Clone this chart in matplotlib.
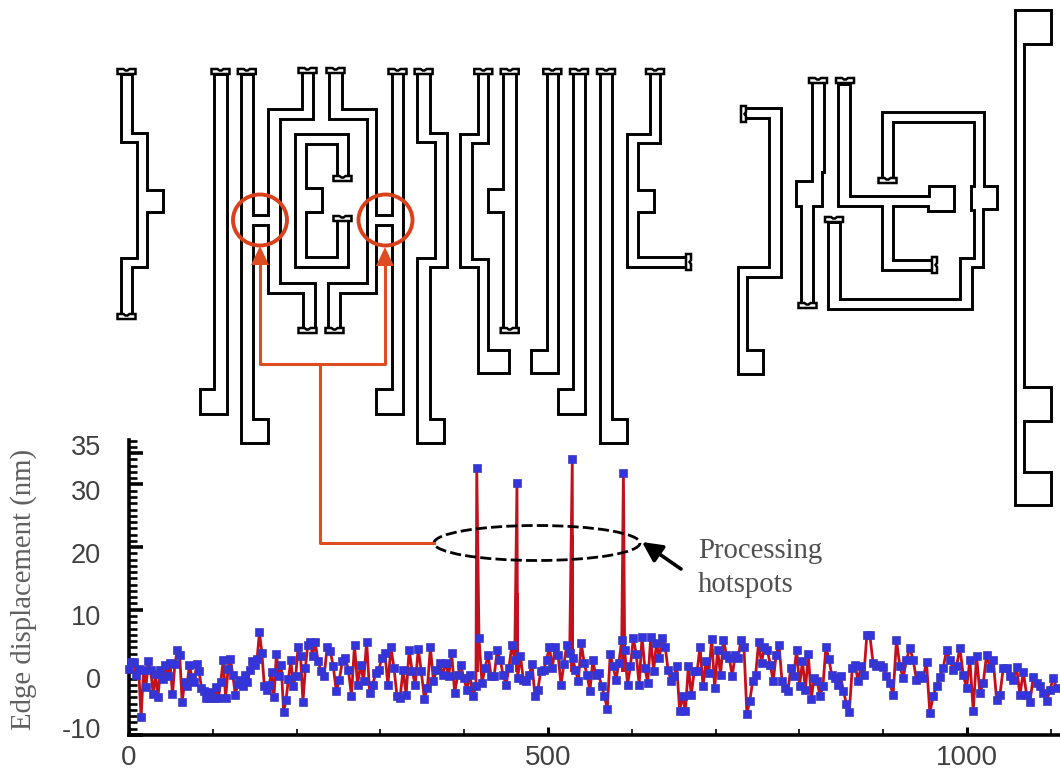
import numpy as np
import matplotlib
matplotlib.use('Agg')
import matplotlib.pyplot as plt
import matplotlib.transforms as mtransforms
from matplotlib.patches import Ellipse, Polygon, FancyArrowPatch
from matplotlib.ticker import MultipleLocator

# edge displacement, one array per stretch of the x axis
seg1_y = [0.5, 1.6, 1.7, -0.4, 0.5, -7.2, 0.3, -2.4, 1.8, 0.3, -3.5, -0.3, -3.9, 0.4, -1.1, 1.2, -0.6, 1.5, -3.5, 1.3,
          3.6, 2.7, -4.8, -1.5, -2.2, 1.2, -0.7, -1.6, 1.3, 0.2, -2.5, -3.0, -4.1, -4.1, -3.2, -4.1, -2.3, -4.1, -1.5, 2.0,
          -4.1, 0.5, 2.1, -0.5, -3.6, -1.9, -1.2, -2.2, -0.5, -1.5, 0.3, 1.8, 1.2, 2.1, 6.4, 3.1, -2.1, -2.8, -2.0, 0.0,
          -4.0, 2.9, -0.6, 1.2, -6.3, -4.4, -1.0, 1.9, -2.2, -0.6, 4.1, 2.6, -4.7, 0.7, 4.4, 4.9, 2.6]
seg2_y = [4.9, 1.8, 0.2, -0.6, 4.1, 3.4, 1.0, -3.0, -1.2, 1.8, 2.3, 0.4, -3.8, 4.4, -2.0, 1.2, -1.4, 4.9, -3.3, -2.0,
          -0.1, 0.4, 2.3, 3.1, -2.0, 4.0, 0.7, -3.8, -4.1, 0.4, -3.6, 3.6, 0.2, -2.0, 3.8, 0.2, -4.2, -2.5, 4.0, -1.4,
          0.4, 1.5, -0.4, 1.5, -0.6, 3.1, -3.3, -0.4, 1.2, -0.9, -2.8, -0.4, -3.8, -2.2, 5.5, -1.7, 0.7, 2.8, -0.6, -0.6, 3.5]
seg3_y = [2.0, -0.4, -2.0, 0.7, 4.3, 2.0, -0.9, 2.6, -1.2, -1.4, -0.4, 1.3, -3.8, -2.8, 0.2, 0.4, 2.0, 4.1, 0.7, 4.1,
          2.8, -2.0, 1.3, 4.4, 3.1, 2.3, 0.4, -1.4, 4.7, 1.5, -0.4, -3.0, 1.9, -0.4, -0.1, -2.2, -3.7, -5.9, 2.9, 1.0,
          -1.2, 1.5, 5.2, 3.6, -2.0, 1.0, 5.5, 2.9, -2.0, 5.6, 0.7, -1.7, 5.6, 0.2, 4.7, 2.3, 5.5, 4.1, 0.4, -1.4, -0.6, 1.0, -6.1, -3.8]
seg4_y = [-6.2, 1.0, -3.6, 0.2, 0.2, 4.1, -2.2, 1.8, -0.1, 5.4, -2.5, 3.6, -0.4, 5.2, 2.8, 2.3, -0.6, 2.8, 2.3, 5.2,
          4.1, -6.6, -4.5, -1.4, -0.4, 4.8, 1.5, 4.1, 3.6, 1.2, -1.4, 2.8, 4.4, -1.4, -2.5, -3.0, 0.7, -0.6, 3.6, -2.2,
          1.8, -2.8, 2.9, -4.2, -0.9, -1.4, -3.8, -2.2, 4.0, 2.2, -0.4, -0.9, -2.0, -0.6, -3.0, -5.0, -6.4, 0.7, 1.2, -1.4, 1.0, -0.4, 6.0]
seg5_y = [6.0, 1.5, 1.0, 1.1, 0.8, -0.6, -1.7, -3.6, 5.2, 1.0, -0.9, 2.0, 3.9, 2.0, -1.2, -0.4, -0.9, 1.6, -6.5, -3.8,
          -2.2, -0.8, 0.7, 3.5, 2.0, 0.4, 1.0, 3.9, -0.4, -2.5, 2.0, -6.2, 2.6, -3.3, -1.7, 2.8, 0.7, 2.0, -4.4, -3.6,
          0.7, 0.7, -0.6, -1.2, 0.8, -3.6, 0.1, -3.6, -4.7, -0.7, -1.7, -2.2, -3.3, -4.6, -2.8, -0.9, -2.5]
seg_edges = [0, 222, 443, 664, 884, 1111]

# the four hotspots: peak, and how far up the stem stays thick
spike_x = [415, 463, 529, 590]
spike_y = [32.7, 30.3, 34.0, 31.9]
spike_thick = [16, 12.7, 22, 11.6]

y_ticks = [-10, 0, 10, 20, 30, 35]
x_ticks = [0, 500, 1000]
y_label_shift = [-7, 5.5, 5, 6, 6, -8]  # labels sit off their ticks in the picture, pixels

# layout shapes in picture pixels
shape_a = [(120.7, 74), (120.7, 141.7), (137.3, 141.7), (137.3, 258.3), (120.7, 258.3), (120.7, 316.7), (132.3, 316.7),
           (132.3, 266.7), (147.3, 266.7), (147.3, 212.3), (163.3, 212.3), (163.3, 190), (147.3, 190), (147.3, 133.3), (132.3, 133.3), (132.3, 74)]
shape_b = [(214, 74), (226.5, 74), (226.5, 414), (200, 414), (200, 389.3), (214, 389.3)]
shape_c = [(240.7, 74), (240.7, 442.7), (268.3, 442.7), (268.3, 419), (253.3, 419), (253.3, 225), (268.3, 225), (268.3, 293),
           (303.3, 293), (303.3, 330), (315, 330), (315, 283), (280, 283), (280, 119.3), (313.3, 119.3), (313.3, 72),
           (301.7, 72), (301.7, 109.3), (268.3, 109.3), (268.3, 215), (253.3, 215), (253.3, 74)]
shape_d = [(329.3, 72), (341.7, 72), (341.7, 109.3), (376, 109.3), (376, 215), (391.7, 215), (391.7, 72), (403.3, 72),
           (403.3, 414), (376, 414), (376, 389.3), (391.7, 389.3), (391.7, 225), (376, 225), (376, 293), (340, 293),
           (340, 330), (328.3, 330), (328.3, 283), (366.7, 283), (366.7, 119.3), (329.3, 119.3)]
shape_e = [(295, 134), (348.3, 134), (348.3, 178.3), (336.7, 178.3), (336.7, 144), (306, 144), (306, 188.3), (321.7, 188.3),
           (321.7, 212.3), (306, 212.3), (306, 257.3), (337.3, 257.3), (337.3, 220), (348.3, 220), (348.3, 267.3), (295, 267.3)]
shape_f = [(417.3, 72), (417.3, 141.7), (435, 141.7), (435, 258.3), (417.3, 258.3), (417.3, 442.7), (444, 442.7), (444, 419.3),
           (430, 419.3), (430, 266.7), (446.7, 266.7), (446.7, 133.3), (430, 133.3), (430, 72)]
shape_g = [(478.3, 72), (478.3, 134), (460, 134), (460, 266.7), (478.3, 266.7), (478.3, 373.3), (509.3, 373.3), (509.3, 350),
           (487.7, 350), (487.7, 259.3), (471.7, 259.3), (471.7, 142.7), (488.3, 142.7), (488.3, 72)]
shape_h = [(503.3, 72), (503.3, 189.3), (487.7, 189.3), (487.7, 212.3), (503.3, 212.3), (503.3, 331), (516, 331), (516, 72)]
shape_i = [(546.7, 72), (546.7, 350), (531, 350), (531, 373.3), (557.7, 373.3), (557.7, 72)]
shape_j = [(573.3, 72), (573.3, 389.3), (558.3, 389.3), (558.3, 414), (585, 414), (585, 72)]
shape_k = [(600, 72), (600, 442.7), (626.7, 442.7), (626.7, 419.3), (612, 419.3), (612, 72)]
shape_l = [(650, 72), (650, 134), (627.3, 134), (627.3, 267.3), (686, 267.3), (686, 257.3), (637.7, 257.3), (637.7, 212.3),
           (654, 212.3), (654, 190), (637.7, 190), (637.7, 142.7), (660, 142.7), (660, 72)]
shape_m = [(745, 108.3), (780.7, 108.3), (780.7, 276.7), (747.3, 276.7), (747.3, 350), (763.3, 350), (763.3, 374), (737.7, 374),
           (737.7, 267.3), (769.3, 267.3), (769.3, 118.3), (745, 118.3)]
shape_n = [(811.7, 82), (811.7, 181), (796, 181), (796, 205.7), (800.7, 205.7), (800.7, 306), (813.3, 306), (813.3, 205.7),
           (821.7, 205.7), (821.7, 172), (824.3, 172), (824.3, 82)]
shape_o = [(838.3, 84), (838.3, 205.7), (881.7, 205.7), (881.7, 270), (933, 270), (933, 260), (893.3, 260), (893.3, 205.7),
           (928.3, 205.7), (928.3, 210.7), (954, 210.7), (954, 185.7), (929, 185.7), (929, 196), (850, 196), (850, 84)]
shape_p = [(881.7, 181), (881.7, 111.7), (984, 111.7), (984, 185.7), (997.3, 185.7), (997.3, 209.3), (983.3, 209.3), (983.3, 266.7),
           (971.7, 266.7), (971.7, 309.3), (828.3, 309.3), (828.3, 221.7), (840, 221.7), (840, 299), (960, 299), (960, 258.3),
           (974.3, 258.3), (974.3, 210), (971, 210), (971, 185.7), (974.3, 185.7), (974.3, 122.3), (893.3, 122.3), (893.3, 181)]
shape_q = [(1015, 10), (1050.7, 10), (1050.7, 44), (1024.3, 44), (1024.3, 386.7), (1050.7, 386.7), (1050.7, 420.7), (1024.3, 420.7),
           (1024.3, 471.7), (1050.7, 471.7), (1050.7, 505), (1015, 505)]
shapes = [shape_a, shape_b, shape_c, shape_d, shape_e, shape_f, shape_g, shape_h, shape_i,
          shape_j, shape_k, shape_l, shape_m, shape_n, shape_o, shape_p, shape_q]

# small notched line ends: centre x, centre y
caps_flat = [(126.5, 72), (126.5, 317), (220.5, 72), (246.8, 72), (307.5, 71), (335.5, 71), (307.5, 331), (334.5, 331),
             (342.5, 179), (342.5, 219), (397.5, 72), (423.6, 72), (483.3, 72), (509.7, 72), (509.7, 331), (552.3, 72),
             (579, 72), (606, 72), (655, 72), (818, 81), (807.5, 306), (845, 81), (887.5, 181), (834, 220)]
caps_side = [(688, 262), (743, 114), (934, 265)]


def notch_flat(cx, cy):
    return [(cx - 9, cy - 3), (cx - 3, cy - 3), (cx - 1, cy - 1.5), (cx + 1, cy - 1.5), (cx + 3, cy - 3), (cx + 9, cy - 3),
            (cx + 9, cy + 2), (cx - 9, cy + 2)]


def notch_side(cx, cy):
    return [(cx - 2, cy - 8), (cx + 3, cy - 8), (cx + 3, cy - 2), (cx + 1.5, cy), (cx + 3, cy + 2), (cx + 3, cy + 8), (cx - 2, cy + 8)]


def plot_chart(fig):
    ax = fig.add_axes([129 / 1060, 40 / 775, 931 / 1060, 295 / 775])
    segs = [seg1_y, seg2_y, seg3_y, seg4_y, seg5_y]
    xs = [np.linspace(seg_edges[i], seg_edges[i + 1], len(s), endpoint=False) for i, s in enumerate(segs)]
    x = np.concatenate(xs + [spike_x])
    y = np.concatenate(segs + [spike_y])
    order = np.argsort(x)
    ax.plot(x[order], y[order], color='#c2101c', lw=2.0, zorder=2, clip_on=False)
    ax.vlines(spike_x, 0, spike_thick, color='#c2101c', lw=2.8, zorder=2)
    ax.plot(x[order], y[order], ls='none', marker='s', ms=5.6, mfc='#3434dc', mec='#3d3ab8', mew=0.5, zorder=3, clip_on=False)

    ax.set_xlim(0, 1111)
    ax.set_ylim(-10, 37.1)
    for side in ['top', 'right']:
        ax.spines[side].set_visible(False)
    ax.spines['left'].set_linewidth(2.6)
    ax.spines['bottom'].set_linewidth(2.6)

    ax.set_xticks(x_ticks)
    ax.set_yticks(y_ticks)
    ax.xaxis.set_minor_locator(MultipleLocator(100))
    ax.yaxis.set_minor_locator(MultipleLocator(1))
    ax.tick_params(axis='x', which='major', direction='in', length=6, width=2.2, pad=7, labelsize=20, labelcolor='#404040')
    ax.tick_params(axis='x', which='minor', direction='in', length=4, width=1.2)
    ax.tick_params(axis='y', which='major', direction='in', length=10, width=2.6, pad=20, labelsize=19.5, labelcolor='#404040')
    ax.tick_params(axis='y', which='minor', direction='in', length=6, width=1.9)

    for lab, dy in zip(ax.get_yticklabels(), y_label_shift):
        shift = mtransforms.ScaledTranslation(0, -dy / 100, fig.dpi_scale_trans)
        lab.set_transform(lab.get_transform() + shift)

    ax.set_ylabel('Edge displacement (nm)', family='Liberation Serif', fontsize=20.7, color='#606060')
    ax.yaxis.set_label_coords(-0.099, 0.495)
    return ax


def plot_layout(fig):
    over = fig.add_axes([0, 0, 1, 1])
    over.set_xlim(0, 1060)
    over.set_ylim(775, 0)
    over.axis('off')

    for pts in shapes:
        over.add_patch(Polygon(pts, closed=True, fill=False, ec='black', lw=2.1, joinstyle='miter'))
    for cx, cy in caps_flat:
        over.add_patch(Polygon(notch_flat(cx, cy), closed=True, fc='white', ec='black', lw=1.8))
    for cx, cy in caps_side:
        over.add_patch(Polygon(notch_side(cx, cy), closed=True, fc='white', ec='black', lw=1.8))

    # orange call-out
    orange = '#e04c22'
    over.add_patch(Ellipse((260, 220), 54, 51, fill=False, ec='#d8431e', lw=2.8))
    over.add_patch(Ellipse((385.5, 220), 54, 51, fill=False, ec='#d8431e', lw=2.8))
    over.plot([260, 260, 385, 385], [262, 364, 364, 262], color=orange, lw=2.2)
    over.plot([320, 320, 434], [364, 543, 543], color=orange, lw=2.2)
    over.add_patch(Polygon([(260, 246), (251, 265), (269, 265)], closed=True, fc=orange, ec='none'))
    over.add_patch(Polygon([(385, 247), (376, 266), (394, 266)], closed=True, fc=orange, ec='none'))

    # dashed ring and black arrow
    over.add_patch(Ellipse((537, 543), 206, 35, fill=False, ec='black', lw=2.0, ls=(0, (4, 1.5))))
    over.add_patch(FancyArrowPatch((681, 569), (642, 542), arrowstyle='-|>', mutation_scale=30, color='black', lw=2.6, shrinkA=0, shrinkB=0))

    over.text(698, 551, 'Processing', family='Liberation Serif', fontsize=20.7, color='#505050', va='center')
    over.text(698, 585, 'hotspots', family='Liberation Serif', fontsize=20.7, color='#505050', va='center')


if __name__ == "__main__":
    fig = plt.figure(figsize=(10.6, 7.75), dpi=100)
    plt.rcParams['font.family'] = ['Liberation Sans', 'DejaVu Sans']
    plt.rcParams['axes.unicode_minus'] = False
    plot_chart(fig)
    plot_layout(fig)
    fig.savefig('out.png', dpi=100)
